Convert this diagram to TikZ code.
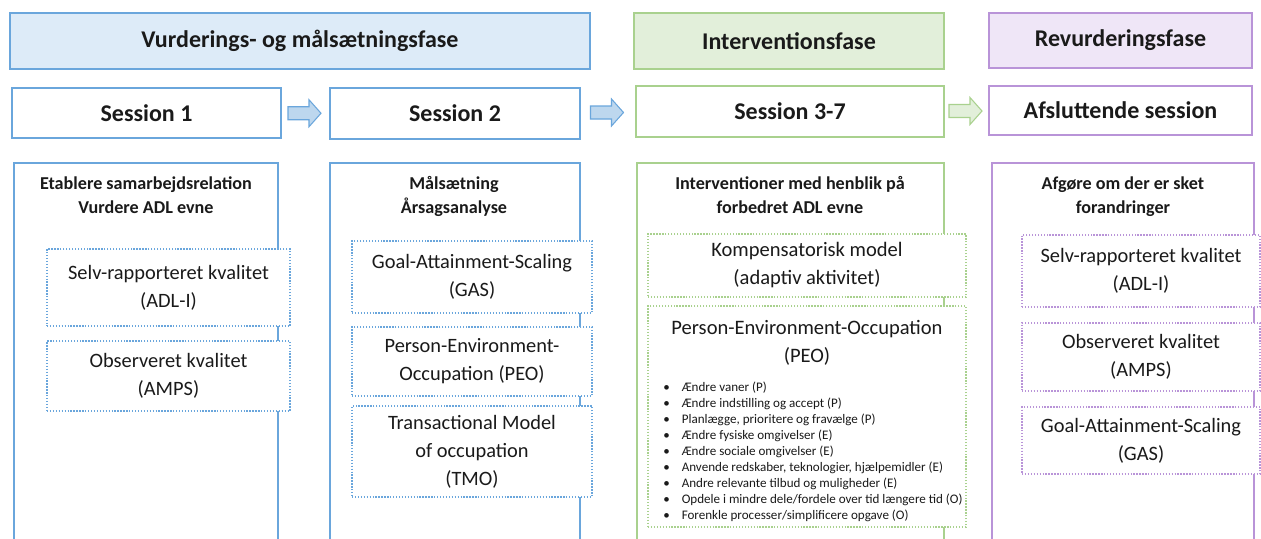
\documentclass[tikz,border=0pt]{standalone}
\usepackage{fontspec}
\setmainfont{Carlito}
\usetikzlibrary{fit,calc}
\definecolor{bluebd}{HTML}{6AA6DC}
\definecolor{bluefill}{HTML}{DDEBF8}
\definecolor{arrowblue}{HTML}{BDD7EE}
\definecolor{greenbd}{HTML}{A9D18E}
\definecolor{greenfill}{HTML}{E2EFDA}
\definecolor{purplebd}{HTML}{B994D8}
\definecolor{purplefill}{HTML}{EFE6F7}
\definecolor{txt}{HTML}{1A1A1A}
\tikzset{
  phasebox/.style={draw, line width=2.2pt, inner sep=0pt},
  phasetext/.style={text=txt, font=\bfseries\fontsize{18}{21}\selectfont},
  sessbox/.style={draw, fill=white, line width=2.2pt, inner sep=0pt},
  sesstext/.style={text=txt, font=\bfseries\fontsize{18}{21}\selectfont},
  colbox/.style={draw, line width=2.2pt, inner sep=0pt},
  dotbox/.style={draw, fill=white, line width=1.1pt, dash pattern=on 1pt off 1.2pt, inner sep=0pt},
  dottext/.style={align=center, text=txt, font=\fontsize{15.3}{21}\selectfont},
  hdr/.style={anchor=north, align=center, text=txt, font=\bfseries\fontsize{13.6}{18}\selectfont},
  blockarrow/.style={line width=0.8pt, line join=miter}
}
\newcommand{\blockarrowpath}[1]{%
  ($(#1)+(-16.5,-6.5)$) -- ($(#1)+(4.5,-6.5)$) -- ($(#1)+(4.5,-13.5)$) -- ($(#1)+(16.5,0)$) --
  ($(#1)+(4.5,13.5)$) -- ($(#1)+(4.5,6.5)$) -- ($(#1)+(-16.5,6.5)$) -- cycle}
\begin{document}
\begin{tikzpicture}[x=0.75pt,y=-0.75pt]
\useasboundingbox (0,0) rectangle (1261,539);
\clip (0,0) rectangle (1261,539);
\fill[white] (0,0) rectangle (1261,539);
% phases
\node[phasebox, draw=bluebd, fill=bluefill, fit={(10,13) (590,69)}] (p1) {};
\node[phasetext] at (p1.center) {Vurderings- og målsætningsfase};
\node[phasebox, draw=greenbd, fill=greenfill, fit={(634,13) (944,69)}] (p2) {};
\node[phasetext] at (p2.center) {Interventionsfase};
\node[phasebox, draw=purplebd, fill=purplefill, fit={(989,13) (1252,68)}] (p3) {};
\node[phasetext] at (p3.center) {Revurderingsfase};
% sessions
\node[sessbox, draw=bluebd, fit={(12,88) (281,138)}] (s1) {};
\node[sesstext] at (s1.center) {Session 1};
\node[sessbox, draw=bluebd, fit={(330,88) (580,139)}] (s2) {};
\node[sesstext] at (s2.center) {Session 2};
\node[sessbox, draw=greenbd, fit={(636,86) (944,137)}] (s3) {};
\node[sesstext] at (s3.center) {Session 3-7};
\node[sessbox, draw=purplebd, fit={(989,86) (1252,135)}] (s4) {};
\node[sesstext] at (s4.center) {Afsluttende session};
% block arrows
\coordinate (a1) at ($(s1.east)!0.5!(s2.west)+(-1,0)$);
\coordinate (a2) at ($(s2.east)!0.5!(s3.west)+(-1,0)$);
\coordinate (a3) at ($(s3.east)!0.5!(s4.west)+(-1,0)$);
\draw[blockarrow, draw=bluebd, fill=arrowblue] \blockarrowpath{a1};
\draw[blockarrow, draw=bluebd, fill=arrowblue] \blockarrowpath{a2};
\draw[blockarrow, draw=greenbd, fill=greenfill] \blockarrowpath{a3};
% columns
\node[colbox, draw=bluebd, fit={(14,163) (278,560)}] (c1) {};
\node[colbox, draw=bluebd, fit={(330,163) (580,560)}] (c2) {};
\node[colbox, draw=greenbd, fit={(637,163) (944,560)}] (c3) {};
\node[colbox, draw=purplebd, fit={(992,163) (1254,560)}] (c4) {};
% headers
\node[hdr] (h1) at (146,172) {Etablere samarbejdsrelation\\Vurdere ADL evne};
\node[hdr] (h2) at (454,172) {Målsætning\\Årsagsanalyse};
\node[hdr] (h3) at (790,172) {Interventioner med henblik på\\forbedret ADL evne};
\node[hdr] (h4) at (1123,172) {Afgøre om der er sket\\forandringer};
% column 1
\node[dotbox, draw=bluebd, fit={(47,249) (290,326)}] (d11) {};
\node[dottext] at (d11.center) {Selv-rapporteret kvalitet\\(ADL-I)};
\node[dotbox, draw=bluebd, fit={(47,341) (290,411)}] (d12) {};
\node[dottext] at (d12.center) {Observeret kvalitet\\(AMPS)};
% column 2
\node[dotbox, draw=bluebd, fit={(352,241) (592,313)}] (d21) {};
\node[dottext] at (d21.center) {Goal-Attainment-Scaling\\(GAS)};
\node[dotbox, draw=bluebd, fit={(352,327) (592,396)}] (d22) {};
\node[dottext] at (d22.center) {Person-Environment-\\Occupation (PEO)};
\node[dotbox, draw=bluebd, fit={(352,406) (592,497)}] (d23) {};
\node[dottext] at (d23.center) {Transactional Model\\of occupation\\(TMO)};
% column 3
\node[dotbox, draw=greenbd, fit={(648,234) (966,297)}] (d31) {};
\node[dottext, font=\fontsize{15.4}{21}\selectfont] at (d31.center) {Kompensatorisk model\\(adaptiv aktivitet)};
\node[dotbox, draw=greenbd, fit={(648,306) (966,527)}] (d32) {};
\node[dottext, anchor=north, font=\fontsize{15.4}{21}\selectfont] (peo) at (807,316) {Person-Environment-Occupation\\(PEO)};
\node[anchor=north west, inner sep=0pt, text=txt, font=\fontsize{9.8}{12}\selectfont] (lst) at (663,380) {%
\begin{tabular}{@{}l@{\hspace{9pt}}l@{}}
\textbullet & Ændre vaner (P)\\
\textbullet & Ændre indstilling og accept (P)\\
\textbullet & Planlægge, prioritere og fravælge (P)\\
\textbullet & Ændre fysiske omgivelser (E)\\
\textbullet & Ændre sociale omgivelser (E)\\
\textbullet & Anvende redskaber, teknologier, hjælpemidler (E)\\
\textbullet & Andre relevante tilbud og muligheder (E)\\
\textbullet & Opdele i mindre dele/fordele over tid længere tid (O)\\
\textbullet & Forenkle processer/simplificere opgave (O)
\end{tabular}};
% column 4
\node[dotbox, draw=purplebd, fit={(1022,235) (1260,307)}] (d41) {};
\node[dottext] at (d41.center) {Selv-rapporteret kvalitet\\(ADL-I)};
\node[dotbox, draw=purplebd, fit={(1022,323) (1260,391)}] (d42) {};
\node[dottext] at (d42.center) {Observeret kvalitet\\(AMPS)};
\node[dotbox, draw=purplebd, fit={(1022,407) (1260,474)}] (d43) {};
\node[dottext] at (d43.center) {Goal-Attainment-Scaling\\(GAS)};
\end{tikzpicture}
\end{document}
